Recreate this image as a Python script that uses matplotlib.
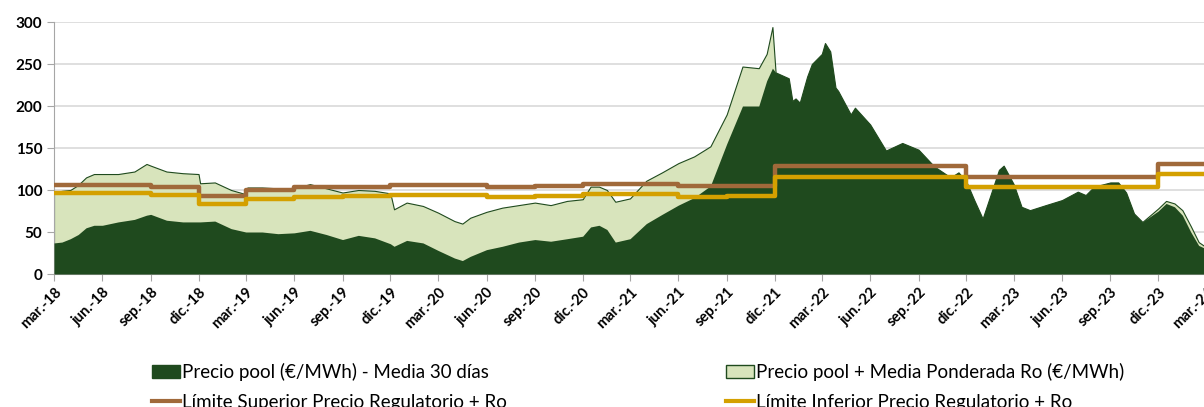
import numpy as np
import pandas as pd
import matplotlib
matplotlib.use("Agg")
import matplotlib.pyplot as plt
from matplotlib.patches import Patch
from matplotlib.lines import Line2D

plt.rcParams['font.family'] = ['Lato', 'DejaVu Sans']

# serie diaria aproximada
fechas = ["2018-03-01", "2018-03-16", "2018-04-01", "2018-04-16", "2018-05-01", "2018-05-16",
          "2018-06-01", "2018-07-01", "2018-08-01", "2018-08-24", "2018-09-01", "2018-10-01",
          "2018-11-01", "2018-12-01", "2018-12-04", "2019-01-01", "2019-02-01", "2019-03-01",
          "2019-03-04", "2019-04-01", "2019-05-01", "2019-06-01", "2019-07-01", "2019-08-01",
          "2019-09-01", "2019-10-01", "2019-11-01", "2019-12-01", "2019-12-08", "2020-01-01",
          "2020-02-01", "2020-03-01", "2020-04-01", "2020-04-16", "2020-05-01", "2020-06-01",
          "2020-07-01", "2020-08-01", "2020-09-01", "2020-10-01", "2020-11-01", "2020-12-01",
          "2020-12-16", "2021-01-01", "2021-01-16", "2021-02-01", "2021-03-01", "2021-04-01",
          "2021-05-01", "2021-06-01", "2021-07-01", "2021-08-01", "2021-09-01", "2021-10-01",
          "2021-11-01", "2021-11-16", "2021-11-27", "2021-12-03", "2021-12-28", "2022-01-04",
          "2022-01-10", "2022-01-18", "2022-02-01", "2022-02-10", "2022-03-01", "2022-03-07",
          "2022-03-17", "2022-03-27", "2022-04-01", "2022-04-25", "2022-05-03", "2022-06-01",
          "2022-07-01", "2022-08-01", "2022-09-01", "2022-10-01", "2022-11-01", "2022-11-16",
          "2022-12-01", "2022-12-16", "2023-01-01", "2023-01-16", "2023-02-01", "2023-02-10",
          "2023-03-01", "2023-03-16", "2023-04-01", "2023-05-01", "2023-06-01", "2023-07-01",
          "2023-07-16", "2023-08-01", "2023-09-01", "2023-09-16", "2023-10-01", "2023-10-16",
          "2023-11-01", "2023-12-01", "2023-12-16", "2024-01-01", "2024-01-16", "2024-02-01",
          "2024-02-16", "2024-03-01"]

pool = [37, 38, 42, 47, 55, 58,
        58, 62, 65, 70, 71, 64,
        62, 62, 62, 63, 54, 50,
        50, 50, 48, 49, 52, 47,
        41, 46, 43, 36, 33, 40,
        37, 28, 19, 16, 21, 29,
        33, 38, 41, 39, 42, 45,
        56, 58, 53, 38, 42, 60,
        71, 82, 91, 105, 155, 200,
        200, 230, 245, 240, 233, 206,
        209, 204, 235, 250, 262, 275,
        265, 222, 218, 190, 198, 178,
        147, 156, 148, 128, 115, 121,
        110, 88, 66, 94, 124, 129,
        107, 80, 76, 82, 88, 98,
        94, 104, 109, 109, 97, 72,
        62, 75, 84, 80, 70, 50,
        34, 30]

pool_ro = [97, 99, 100, 106, 115, 119,
           119, 119, 122, 131, 129, 122,
           120, 119, 108, 109, 100, 95,
           103, 103, 102, 102, 107, 102,
           97, 100, 99, 96, 77, 85,
           81, 73, 63, 60, 67, 74,
           79, 82, 85, 82, 87, 89,
           104, 104, 100, 86, 90, 111,
           121, 132, 140, 152, 190, 247,
           245, 262, 294, 240, 233, 206,
           209, 204, 235, 250, 262, 275,
           265, 222, 218, 190, 198, 178,
           147, 156, 148, 128, 115, 121,
           110, 88, 66, 94, 124, 129,
           107, 80, 76, 82, 88, 98,
           94, 104, 109, 109, 97, 72,
           62, 78, 87, 84, 76, 57,
           38, 32]

# límites trimestrales
trimestres = pd.date_range("2018-03-01", "2024-03-01", freq="3MS")
lim_sup = [106, 106, 104, 93, 100, 103, 104, 106, 106, 104, 105, 107,
           107, 105, 105, 128, 128, 128, 128, 115, 115, 115, 115, 131, 131]
lim_inf = [96, 96, 94, 83.5, 89, 92, 93, 94, 94, 92, 93, 95,
           95, 92, 92.5, 116, 116, 116, 116, 103.5, 103.5, 103.5, 103.5, 118.5, 118.5]

meses_es = {3: "mar.", 6: "jun.", 9: "sep.", 12: "dic."}

c_dark = "#1F4A1E"
c_light = "#D8E4BC"
c_brown = "#A0693A"
c_gold = "#D4A000"

x = pd.to_datetime(fechas)

fig = plt.figure(figsize=(12.04, 4.07), dpi=100)
ax = fig.add_axes([54 / 1204, 1 - 274 / 407, (1206 - 54) / 1204, 252 / 407])

ax.fill_between(x, pool_ro, color=c_light, edgecolor=c_dark, linewidth=0.8, zorder=2)
ax.fill_between(x, pool, color=c_dark, linewidth=0, zorder=3)
ax.plot(trimestres, lim_sup, drawstyle="steps-post", color=c_brown, lw=3.2, zorder=4)
ax.plot(trimestres, lim_inf, drawstyle="steps-post", color=c_gold, lw=3.2, zorder=4)

ax.set_ylim(0, 300)
ax.set_yticks(np.arange(0, 301, 50))
ax.set_xlim(pd.Timestamp("2018-03-01"), pd.Timestamp("2024-03-01"))
ax.set_xticks(trimestres)
ax.set_xticklabels([f"{meses_es[d.month]}-{d.strftime('%y')}" for d in trimestres],
                   rotation=45, ha="right", rotation_mode="anchor", fontsize=10.5, fontweight="bold")
for t in ax.get_yticklabels():
    t.set_fontweight("bold")
    t.set_fontsize(11)

ax.grid(axis="y", color="#D9D9D9", lw=1.2, zorder=0)
ax.set_axisbelow(True)
for s in ["top", "right"]:
    ax.spines[s].set_visible(False)
for s in ["left", "bottom"]:
    ax.spines[s].set_color("#A6A6A6")
ax.tick_params(axis="both", color="#A6A6A6", length=5)
ax.tick_params(axis="x", pad=3)

h1 = [Patch(facecolor=c_dark, edgecolor=c_dark),
      Line2D([], [], color=c_brown, lw=3)]
l1 = ["Precio pool (€/MWh) - Media 30 días", "Límite Superior Precio Regulatorio + Ro"]
h2 = [Patch(facecolor=c_light, edgecolor=c_dark),
      Line2D([], [], color=c_gold, lw=3)]
l2 = ["Precio pool + Media Ponderada Ro (€/MWh)", "Límite Inferior Precio Regulatorio + Ro"]

leg_kw = dict(loc="upper left", frameon=False, fontsize=13.5, handlelength=1.5,
              handletextpad=0.12, borderpad=0, borderaxespad=0, labelspacing=0.68)
fig.legend(h1, l1, bbox_to_anchor=(152 / 1204, 1 - 363 / 407), **leg_kw)
fig.legend(h2, l2, bbox_to_anchor=(726 / 1204, 1 - 363 / 407), **leg_kw)

fig.savefig("out.png", dpi=100)
